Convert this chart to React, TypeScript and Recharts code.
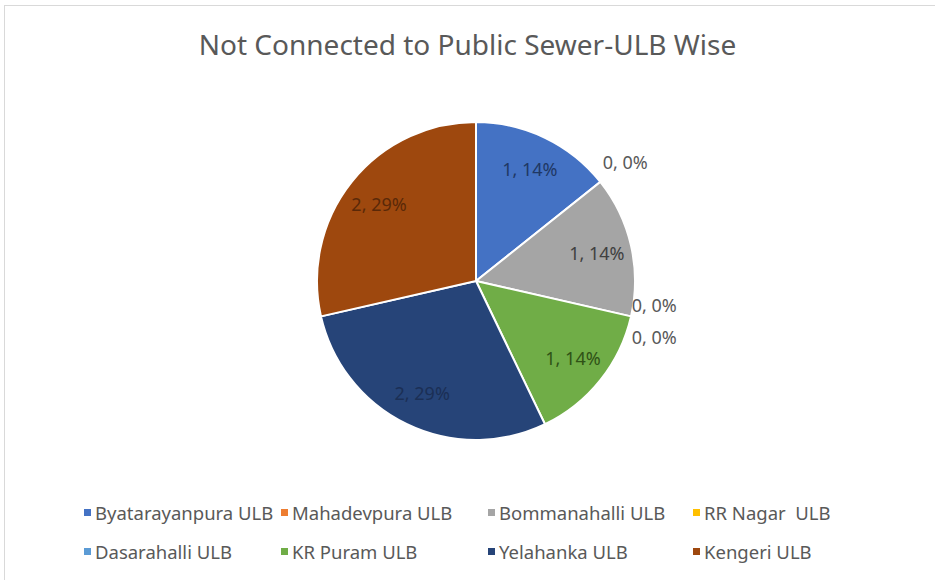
import { PieChart, Pie, Cell, Legend } from "recharts";

const ulbNames = [
  "Byatarayanpura ULB",
  "Mahadevpura ULB",
  "Bommanahalli ULB",
  "RR Nagar  ULB",
  "Dasarahalli ULB",
  "KR Puram ULB",
  "Yelahanka ULB",
  "Kengeri ULB",
];
const notConnected = [1, 0, 1, 0, 0, 1, 2, 2];

const sliceColors = ["#4472C4", "#ED7D31", "#A5A5A5", "#FFC000", "#5B9BD5", "#70AD47", "#264478", "#9E480E"];
const labelColors = ["#203864", "#595959", "#404040", "#595959", "#595959", "#2f5216", "#1b2f55", "#5a2808"];

const data = ulbNames.map((name, i) => ({ name, value: notConnected[i] }));

const RAD = Math.PI / 180;
const FONT = "'Noto Sans', 'Open Sans', sans-serif";

function renderLabel(props: any) {
  const { cx, cy, midAngle, outerRadius, value, percent, index } = props;
  const text = `${value}, ${Math.round(percent * 100)}%`;
  let r = outerRadius * 0.78;
  let shiftY = 0;
  if (value === 0) {
    r = index === 1 ? outerRadius * 1.2 : outerRadius * 1.15;
    if (index === 3) shiftY = -17;
    if (index === 4) shiftY = 15;
  }
  const x = cx + r * Math.cos(-midAngle * RAD);
  const y = cy + r * Math.sin(-midAngle * RAD) + shiftY;
  return (
    <text
      x={x}
      y={y}
      fill={labelColors[index]}
      textAnchor="middle"
      dominantBaseline="central"
      fontSize={18}
      fontFamily={FONT}
    >
      {text}
    </text>
  );
}

function LegendBox() {
  return (
    <div
      style={{
        display: "grid",
        gridTemplateColumns: "197px 207px 205px 200px",
        rowGap: 14,
        paddingLeft: 84,
        fontFamily: FONT,
        fontSize: 18.5,
        color: "#595959",
        textAlign: "left",
      }}
    >
      {ulbNames.map((name, i) => (
        <div key={name} style={{ display: "flex", alignItems: "center", whiteSpace: "pre", lineHeight: "25px" }}>
          <span
            style={{
              display: "inline-block",
              width: 7,
              height: 7,
              background: sliceColors[i],
              marginRight: 4,
            }}
          />
          {name}
        </div>
      ))}
    </div>
  );
}

export default function App() {
  return (
    <div
      style={{
        position: "absolute",
        left: 0,
        top: 0,
        width: 935,
        height: 580,
        background: "#fff",
      }}
    >
      <div
        style={{
          position: "absolute",
          left: 4,
          top: 5,
          width: 931,
          height: 575,
          borderLeft: "1px solid #d9d9d9",
          borderTop: "1px solid #d9d9d9",
        }}
      />
      <div
        style={{
          position: "absolute",
          left: 0,
          top: 25,
          width: 935,
          textAlign: "center",
          fontFamily: FONT,
          fontSize: 28,
          color: "#595959",
        }}
      >
        Not Connected to Public Sewer-ULB Wise
      </div>
      <PieChart width={935} height={580} style={{ position: "absolute", left: 0, top: 0 }}>
        <Pie
          data={data}
          dataKey="value"
          nameKey="name"
          cx={471}
          cy={276}
          outerRadius={159}
          startAngle={90}
          endAngle={-270}
          stroke="#ffffff"
          strokeWidth={2}
          labelLine={false}
          label={renderLabel}
          isAnimationActive={false}
        >
          {data.map((d, i) => (
            <Cell key={d.name} fill={sliceColors[i]} />
          ))}
        </Pie>
        <Legend
          content={() => <LegendBox />}
          wrapperStyle={{ position: "absolute", left: 0, top: 500, width: 935 }}
        />
      </PieChart>
    </div>
  );
}
